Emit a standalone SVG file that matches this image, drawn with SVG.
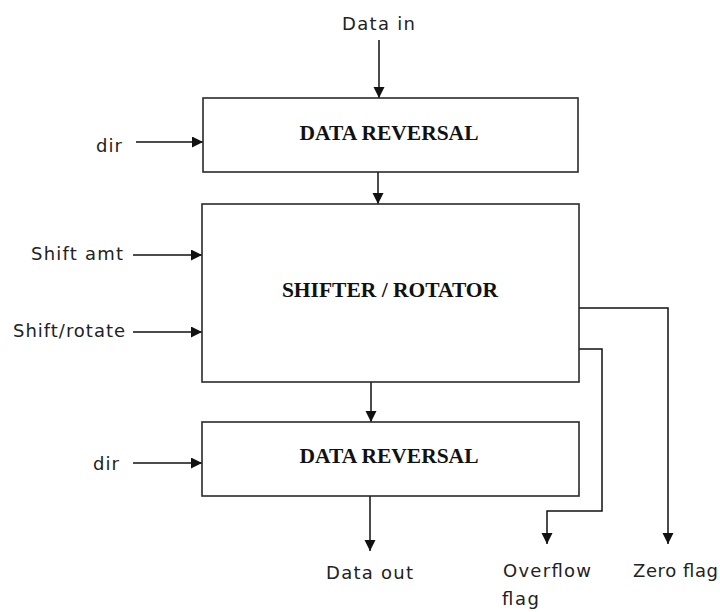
<svg xmlns="http://www.w3.org/2000/svg" width="720" height="612" viewBox="0 0 720 612">
<style>
.box{fill:#fff;stroke:#2a2a2a;stroke-width:1.6}
.title{font-family:"Liberation Serif","Times New Roman",serif;font-weight:bold;font-size:21.5px;fill:#111;text-anchor:middle}
.lbl{font-family:"DejaVu Sans","Liberation Sans",sans-serif;font-size:18px;fill:#222}
.wire{fill:none;stroke:#111;stroke-width:1.5}
</style>
<defs>
<marker id="ah" markerUnits="userSpaceOnUse" markerWidth="12" markerHeight="12" refX="11" refY="5.5" orient="auto">
<path d="M0,0 L11,5.5 L0,11 z" fill="#111"/>
</marker>
</defs>
<rect width="720" height="612" fill="#fff"/>
<g id="connectors">
<path class="wire" d="M379,40 V98" marker-end="url(#ah)"/>
<path class="wire" d="M378,172 V204" marker-end="url(#ah)"/>
<path class="wire" d="M136,142 H203" marker-end="url(#ah)"/>
<path class="wire" d="M133,255 H202" marker-end="url(#ah)"/>
<path class="wire" d="M133,332 H202" marker-end="url(#ah)"/>
<path class="wire" d="M371,382 V422" marker-end="url(#ah)"/>
<path class="wire" d="M133,463 H202" marker-end="url(#ah)"/>
<path class="wire" d="M370,496 V551" marker-end="url(#ah)"/>
<path class="wire" d="M579,349 H602 V511 H547 V544" marker-end="url(#ah)"/>
<path class="wire" d="M579,308 H668 V544" marker-end="url(#ah)"/>
</g>
<g id="data-reversal-top">
<rect class="box" x="203" y="98" width="375" height="74"/>
<text class="title" x="389" y="140">DATA REVERSAL</text>
</g>
<g id="shifter-rotator">
<rect class="box" x="202" y="204" width="377" height="178"/>
<text class="title" x="390" y="297">SHIFTER / ROTATOR</text>
</g>
<g id="data-reversal-bottom">
<rect class="box" x="202" y="422" width="377" height="74"/>
<text class="title" x="389" y="463">DATA REVERSAL</text>
</g>
<g id="labels">
<text class="lbl" x="342" y="30" textLength="73" lengthAdjust="spacing">Data  in</text>
<text class="lbl" x="96" y="152" textLength="26" lengthAdjust="spacing">dir</text>
<text class="lbl" x="31" y="260" textLength="92" lengthAdjust="spacing">Shift  amt</text>
<text class="lbl" x="13" y="337" textLength="112" lengthAdjust="spacing">Shift/rotate</text>
<text class="lbl" x="93" y="470" textLength="26" lengthAdjust="spacing">dir</text>
<text class="lbl" x="326" y="579" textLength="87" lengthAdjust="spacing">Data  out</text>
<text class="lbl" x="503" y="577" textLength="88" lengthAdjust="spacing">Overflow</text>
<text class="lbl" x="502" y="605" textLength="37" lengthAdjust="spacing">flag</text>
<text class="lbl" x="633" y="577" textLength="85" lengthAdjust="spacing">Zero flag</text>
</g>
</svg>
